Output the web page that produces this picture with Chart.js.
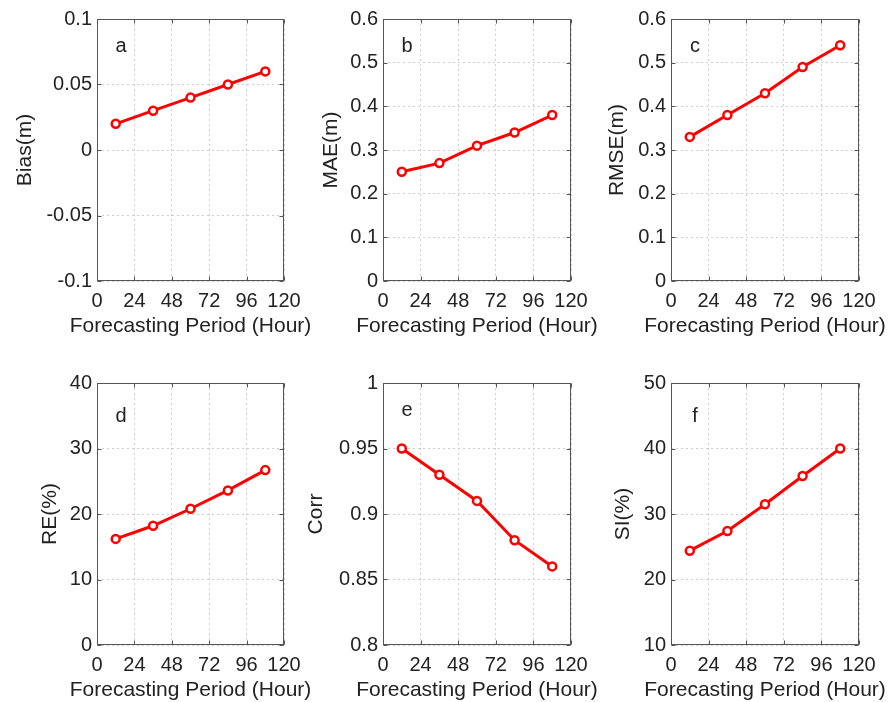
<!DOCTYPE html>
<html>
<head>
<meta charset="utf-8">
<script src="https://cdn.jsdelivr.net/npm/chart.js@4.4.1/dist/chart.umd.min.js"></script>
<style>
  html, body { margin: 0; padding: 0; background: #fff; overflow: hidden; }
  #wrap { position: relative; width: 893px; height: 702px; }
  #wrap canvas { position: absolute; }
</style>
</head>
<body>
<div id="wrap"></div>
<script>
// Data
const hours = [12, 36, 60, 84, 108];
const biasValues = [0.02, 0.03, 0.04, 0.05, 0.06];
const maeValues = [0.25, 0.27, 0.31, 0.34, 0.38];
const rmseValues = [0.33, 0.38, 0.43, 0.49, 0.54];
const reValues = [16.2, 18.2, 20.8, 23.6, 26.7];
const corrValues = [0.95, 0.93, 0.91, 0.88, 0.86];
const siValues = [24.4, 27.4, 31.5, 35.8, 40.0];

const seriesList = [biasValues, maeValues, rmseValues, reValues, corrValues, siValues];
const panelLetters = ["a", "b", "c", "d", "e", "f"];
const yTitles = ["Bias(m)", "MAE(m)", "RMSE(m)", "RE(%)", "Corr", "SI(%)"];
const yMins = [-0.1, 0, 0, 0, 0.8, 10];
const yMaxs = [0.1, 0.6, 0.6, 40, 1, 50];
const ySteps = [0.05, 0.1, 0.1, 10, 0.05, 10];
const xMin = 0;
const xMax = 120;
const xStep = 24;
const xTitle = "Forecasting Period (Hour)";

// Layout (pixels)
const plotLefts = [97, 383, 671];
const plotWidths = [187, 188, 188];
const plotTops = [19, 383];
const plotHeight = 262;
const yAxisWidth = 90;
const xAxisHeight = 60;
const padTop = 19;
const padRight = 40;
const yTitleCenters = [25, 331, 617.5, 50, 316.7, 623];
const letterDrops = [33, 33, 33, 39, 33, 39];
const xTitleDrop = 50.5;

const FONT = "'Liberation Sans', Arial, Helvetica, sans-serif";
const TEXT_COLOR = "#222";

// Box frame, inner tick marks, x title and panel letter
const framePlugin = {
  id: "frame",
  afterDraw(chart, args, opts) {
    const { ctx, chartArea: a, scales } = chart;
    const l = Math.round(a.left) + 0.5;
    const t = Math.round(a.top) + 0.5;
    const r = Math.round(a.right) - 0.5;
    const b = Math.round(a.bottom) - 0.5;
    ctx.save();
    ctx.strokeStyle = "#555";
    ctx.lineWidth = 1;
    ctx.beginPath();
    scales.x.ticks.forEach((tk) => {
      const px = Math.round(scales.x.getPixelForValue(tk.value)) + 0.5;
      ctx.moveTo(px, b); ctx.lineTo(px, b - 4);
      ctx.moveTo(px, t); ctx.lineTo(px, t + 4);
    });
    scales.y.ticks.forEach((tk) => {
      const py = Math.round(scales.y.getPixelForValue(tk.value)) + 0.5;
      ctx.moveTo(l, py); ctx.lineTo(l + 4, py);
      ctx.moveTo(r, py); ctx.lineTo(r - 4, py);
    });
    ctx.stroke();
    ctx.strokeRect(l, t, r - l, b - t);

    ctx.fillStyle = TEXT_COLOR;
    ctx.textAlign = "center";
    ctx.textBaseline = "alphabetic";
    ctx.font = "20px " + FONT;
    ctx.fillText(opts.letter, a.left + 24, a.top + opts.drop);
    ctx.font = "21px " + FONT;
    ctx.fillText(opts.xTitle, (a.left + a.right) / 2, a.bottom + xTitleDrop);
    ctx.restore();
  },
};

function formatTick(v) {
  return String(+v.toFixed(4));
}

const wrap = document.getElementById("wrap");

seriesList.forEach((values, i) => {
  const col = i % 3;
  const row = Math.floor(i / 3);
  const canvasLeft = plotLefts[col] - yAxisWidth;
  const canvasTop = plotTops[row] - padTop;
  const width = yAxisWidth + plotWidths[col] + padRight;
  const height = padTop + plotHeight + xAxisHeight;

  const canvas = document.createElement("canvas");
  canvas.width = width;
  canvas.height = height;
  canvas.style.left = canvasLeft + "px";
  canvas.style.top = canvasTop + "px";
  canvas.style.width = width + "px";
  canvas.style.height = height + "px";
  wrap.appendChild(canvas);

  new Chart(canvas, {
    type: "line",
    data: {
      datasets: [
        {
          data: hours.map((h, k) => ({ x: h, y: values[k] })),
          borderColor: "#ff0000",
          borderWidth: 3,
          pointRadius: 4,
          pointBorderWidth: 2.5,
          pointBackgroundColor: "#fff",
          pointBorderColor: "#ff0000",
          tension: 0,
        },
      ],
    },
    options: {
      responsive: false,
      animation: false,
      devicePixelRatio: 1,
      layout: { padding: { top: padTop, right: padRight, bottom: 0, left: 0 } },
      plugins: {
        legend: { display: false },
        tooltip: { enabled: false },
        frame: { letter: panelLetters[i], drop: letterDrops[i], xTitle: xTitle },
      },
      scales: {
        x: {
          type: "linear",
          min: xMin,
          max: xMax,
          afterFit: (scale) => { scale.height = xAxisHeight; },
          ticks: {
            stepSize: xStep,
            padding: 8,
            maxRotation: 0,
            minRotation: 0,
            autoSkip: false,
            color: TEXT_COLOR,
            font: { family: FONT, size: 20 },
            callback: formatTick,
          },
          grid: { color: "#cfcfcf", lineWidth: 1, drawTicks: false },
          border: { display: false, dash: [2, 3] },
        },
        y: {
          min: yMins[i],
          max: yMaxs[i],
          afterFit: (scale) => { scale.width = yAxisWidth; },
          ticks: {
            stepSize: ySteps[i],
            padding: 5,
            color: TEXT_COLOR,
            font: { family: FONT, size: 20 },
            callback: formatTick,
          },
          grid: { color: "#cfcfcf", lineWidth: 1, drawTicks: false },
          border: { display: false, dash: [2, 3] },
          title: {
            display: true,
            text: yTitles[i],
            color: TEXT_COLOR,
            font: { family: FONT, size: 21 },
            padding: { top: yTitleCenters[i] - canvasLeft - 12.6, bottom: 0 },
          },
        },
      },
    },
    plugins: [framePlugin],
  });
});
</script>
</body>
</html>
